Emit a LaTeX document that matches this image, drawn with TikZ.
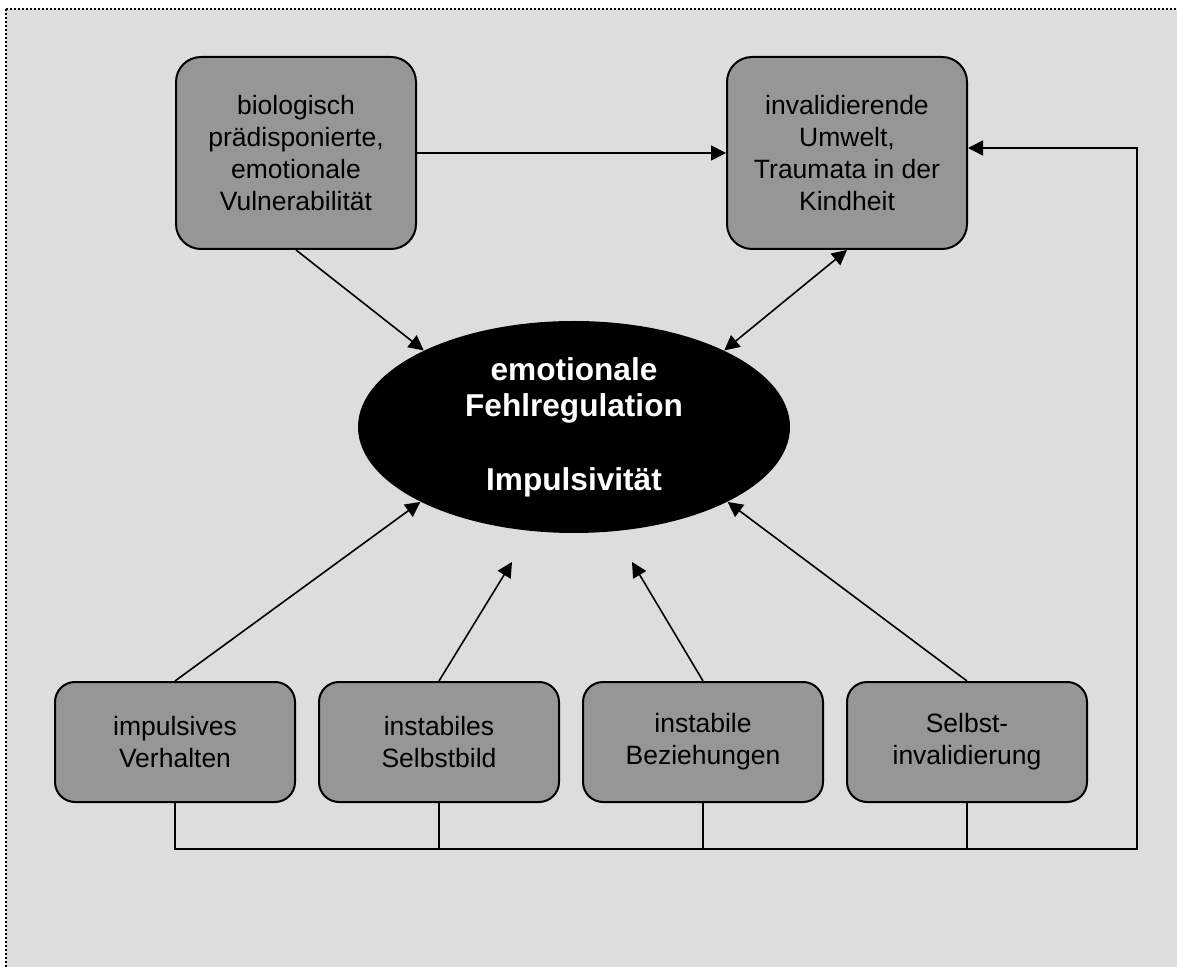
\documentclass[tikz,border=0pt]{standalone}
\usepackage{fontspec}
\setmainfont{Liberation Sans}
\usepackage{tikz}
\usetikzlibrary{arrows.meta,positioning,shapes.geometric,calc}
\definecolor{bggray}{HTML}{DDDDDD}
\definecolor{boxgray}{HTML}{969696}
\tikzset{
  bgframe/.style={draw, fill=bggray, line width=1pt, dash pattern=on 1pt off 1pt},
  cause/.style={draw, rounded corners=12.5pt, fill=boxgray, line width=1pt,
                minimum width=120pt, minimum height=96pt, align=center,
                inner sep=0pt, font=\fontsize{13.25}{16}\selectfont},
  sym/.style={cause, rounded corners=10pt, minimum height=60pt},
  core/.style={ellipse, fill=black, text=white, minimum width=216pt,
               minimum height=106pt, inner sep=0pt, align=center,
               font=\fontsize{15.8}{18.3}\selectfont\bfseries},
  arr/.style={-{Triangle[length=7.5pt,width=7.5pt]}, line width=0.8pt},
  biarr/.style={{Triangle[length=7.5pt,width=7.5pt]}-{Triangle[length=7.5pt,width=7.5pt]},
                line width=0.8pt},
  ln/.style={line width=0.8pt},
}
\begin{document}
\begin{tikzpicture}[x=0.5pt, y=-0.5pt]
  \useasboundingbox (0,0) rectangle (1177,967);
  \clip (0,0) rectangle (1177,967);
  \draw[bgframe] (6,9) rectangle (1190,980);

  % causes
  \node[cause] (bio) at (296,153) {biologisch\\prädisponierte,\\emotionale\\Vulnerabilität};
  \node[cause] (inval) at (847,153) {invalidierende\\Umwelt,\\Traumata in der\\Kindheit};

  % core
  \node[core] (emo) at (574,427) {emotionale\\Fehlregulation\\[18.3pt]Impulsivität};

  % consequences
  \node[sym] (imp) at (175,742) {impulsives\\Verhalten};
  \node[sym, right=11pt of imp] (selbst) {instabiles\\Selbstbild};
  \node[sym, right=11pt of selbst] (bez) {instabile\\Beziehungen};
  \node[sym, right=11pt of bez] (inv) {Selbst-\\invalidierung};

  \coordinate (tipS) at (512,562);
  \coordinate (tipB) at (632,562);
  \coordinate (busR) at (1137,849);

  \draw[arr] (bio.east) -- (inval.west);
  \draw[arr] (bio.south) -- (emo.153);
  \draw[biarr] (emo.27) -- (inval.south);
  \draw[arr] (imp.north) -- (emo.206);
  \draw[arr] (selbst.north) -- (tipS);
  \draw[arr] (bez.north) -- (tipB);
  \draw[arr] (inv.north) -- (emo.334);

  % feedback loop
  \draw[arr] (imp.south) |- (busR) |- ([yshift=2.5pt]inval.east);
  \foreach \n in {selbst,bez,inv}
    \draw[ln] (\n.south) -- (\n.south |- busR);
\end{tikzpicture}
\end{document}
